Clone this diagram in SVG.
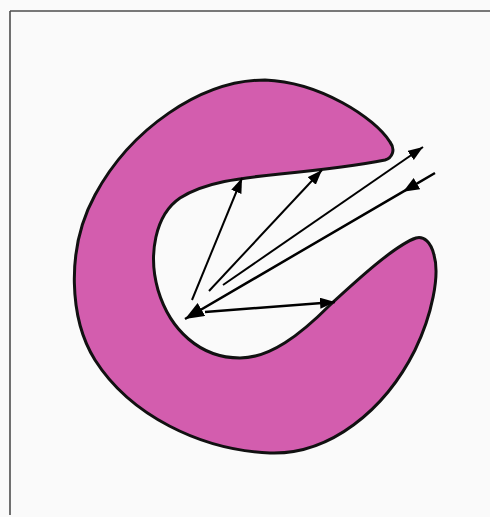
<svg xmlns="http://www.w3.org/2000/svg" width="490" height="517" viewBox="0 0 490 517">
<style>
.frame{stroke:#4d4d4d;stroke-width:1.6;fill:none}
.shape{fill:#d35dae;stroke:#111;stroke-width:3;stroke-linejoin:round}
.ray{stroke:#000;stroke-width:2;fill:none}
.ray2{stroke:#000;stroke-width:2.5;fill:none}
</style>
<defs>
<marker id="ah" markerUnits="userSpaceOnUse" markerWidth="16" markerHeight="12" refX="15" refY="5.5" orient="auto"><path d="M0,0 L15,5.5 L0,11 z" fill="#000"/></marker>
<marker id="ahm" markerUnits="userSpaceOnUse" markerWidth="18" markerHeight="14" refX="8" refY="6.5" orient="auto"><path d="M0,0 L16,6.5 L0,13 z" fill="#000"/></marker>
<marker id="ahb" markerUnits="userSpaceOnUse" markerWidth="20" markerHeight="16" refX="19" refY="7.5" orient="auto"><path d="M0,0 L19,7.5 L0,15 z" fill="#000"/></marker>
</defs>
<rect width="490" height="517" fill="#fafafa"/>
<g id="frame">
<line class="frame" x1="10" y1="11" x2="490" y2="11"/>
<line class="frame" x1="10" y1="11" x2="10" y2="515"/>
</g>
<g id="c-shape">
<path class="shape" d="M 265,80 C 200,80 130,130 95,195 C 65,250 70,320 95,360 C 130,415 200,450 270,453 C 330,455 385,410 415,350 C 432,315 440,275 434,255 C 431,242 424,236 416,238 C 395,245 355,282 330,305 C 300,335 270,358 240,358 C 200,358 170,330 158,290 C 148,255 155,215 180,198 C 205,182 240,178 280,174 C 320,170 365,164 385,160 C 392,158 396,150 390,142 C 375,118 320,82 265,80 Z"/>
</g>
<g id="connectors">
<line class="ray" x1="192" y1="300" x2="242" y2="178" marker-end="url(#ah)"/>
<line class="ray" x1="209" y1="291" x2="322" y2="170" marker-end="url(#ah)"/>
<line class="ray" x1="223" y1="285" x2="423" y2="147" marker-end="url(#ah)"/>
<polyline class="ray2" points="435,173 410,187.6 185,319" marker-mid="url(#ahm)" marker-end="url(#ahb)"/>
<line class="ray2" x1="205" y1="312" x2="335" y2="302" marker-end="url(#ah)"/>
</g>
</svg>
